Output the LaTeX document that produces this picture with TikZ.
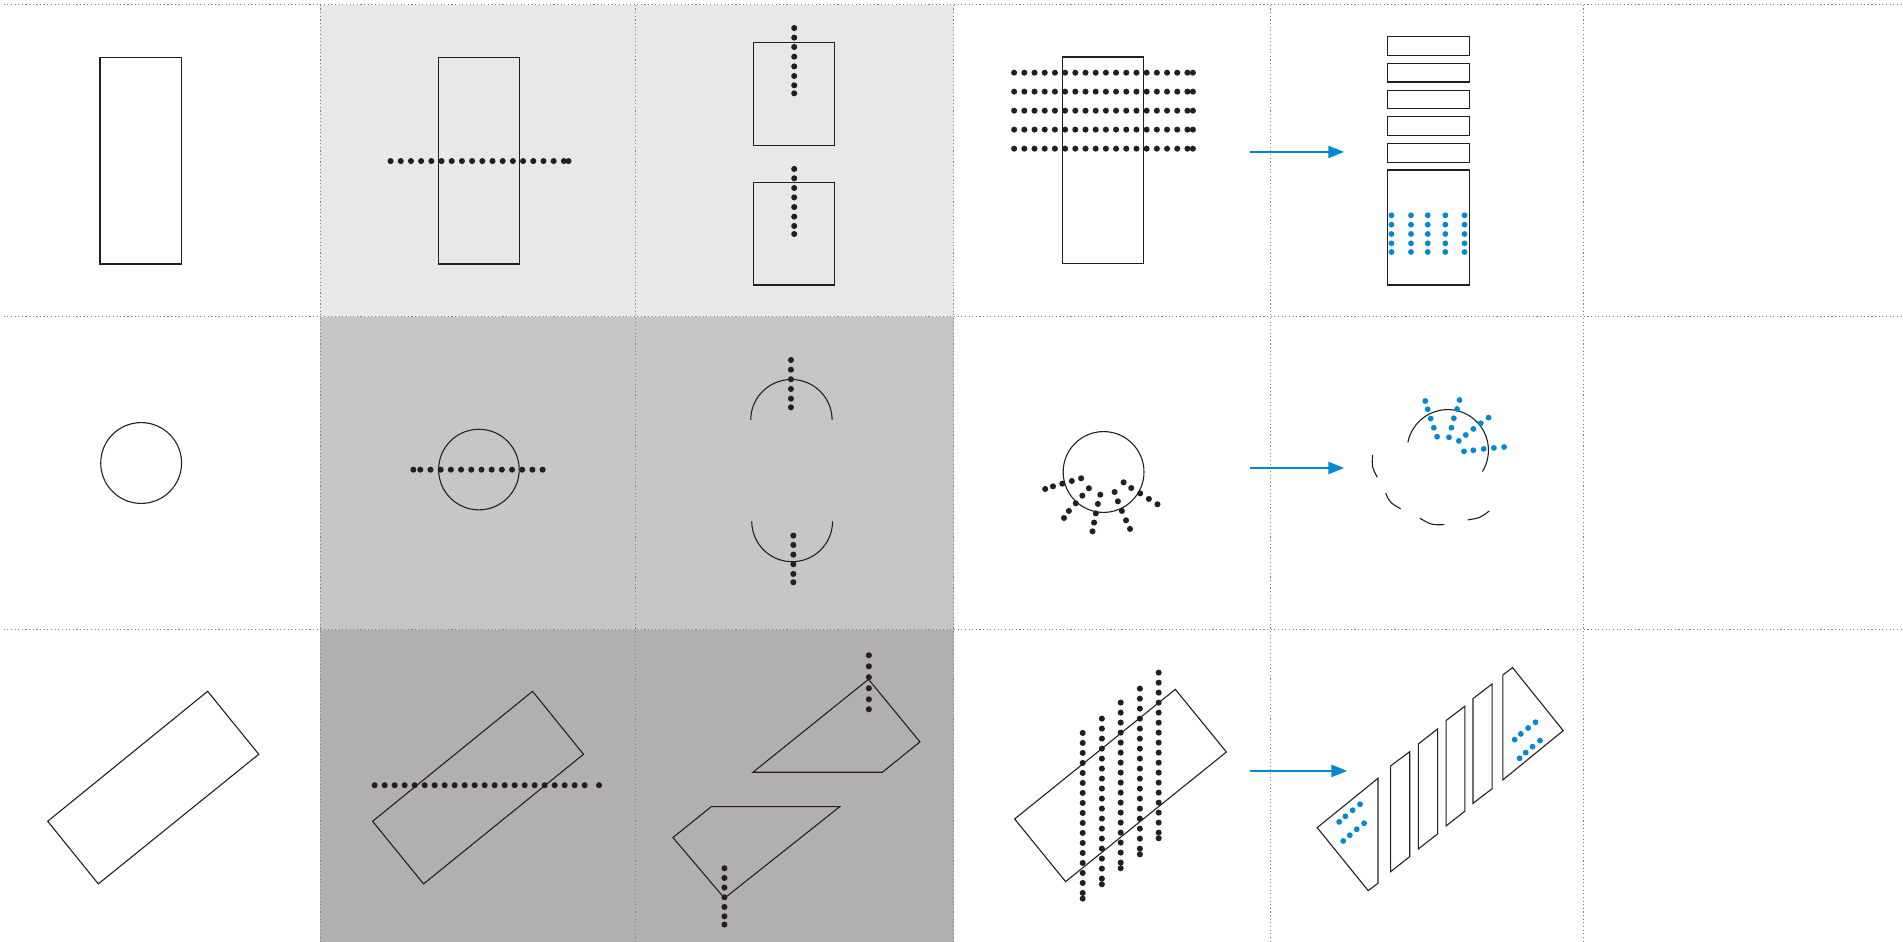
\documentclass[tikz,border=0pt]{standalone}
\usetikzlibrary{arrows.meta}
\definecolor{ink}{HTML}{231F20}
\definecolor{blu}{HTML}{0088D1}
\definecolor{gA}{HTML}{E8E8E8}
\definecolor{gB}{HTML}{C6C6C6}
\definecolor{gC}{HTML}{B1AFB0}
\definecolor{gridc}{HTML}{808080}
\tikzset{
  shp/.style={draw=ink, line width=0.9pt, line join=miter},
  grd/.style={draw=gridc, line width=0.8pt, dash pattern=on 0.9pt off 2.1pt},
  arr/.style={draw=blu, line width=1.3pt, -{Triangle[length=13pt,width=10pt]}},
  kd/.style={fill=ink},
  bd/.style={fill=blu},
}
\newcommand{\kdot}[2]{\fill[kd] (#1,#2) circle[radius=2.5pt];}
\newcommand{\bdot}[2]{\fill[bd] (#1,#2) circle[radius=2.4pt];}
\begin{document}
\begin{tikzpicture}[x=1pt,y=-1pt]
\useasboundingbox (0,0) rectangle (1568,776);
\fill[white] (0,0) rectangle (1568,776);
% shaded columns
\fill[gA] (264,4) rectangle (786,261);
\fill[gB] (264,261) rectangle (786,519);
\fill[gC] (264,519) rectangle (786,776);
% grid
\foreach \yy in {4,261,519} {\draw[grd] (3,\yy) -- (1568,\yy);}
\foreach \xx in {264,524,786,1047,1305} {\draw[grd] (\xx,4) -- (\xx,776);}

% ===== Row 1 =====
\draw[shp] (82.4,47.2) rectangle (149.3,217.5);
% cell 1,2
\draw[shp] (361.5,47.2) rectangle (428,217.5);
\foreach \i in {0,...,17} {\kdot{321.8+8.4*\i}{132.7}}
\kdot{468.4}{132.7}
% cell 1,3
\draw[shp] (620.8,35.2) rectangle (687.7,120);
\foreach \yy in {23.1,31.0,38.7,46.7,54.7,62.6,70.3,76.9} {\kdot{654.4}{\yy}}
\draw[shp] (620.8,150) rectangle (687.7,234.8);
\foreach \yy in {139.2,146.9,154.9,162.6,170.6,178.5,186.2,192.8} {\kdot{654.4}{\yy}}
% cell 1,4
\draw[shp] (875.3,47) rectangle (942.2,217);
\foreach \yy in {59.9,75.5,91.2,106.8,122.5}{
  \foreach \i in {0,...,17} {\kdot{835.6+8.4*\i}{\yy}}
  \kdot{982.9}{\yy}
}
\coordinate (a1s) at (1030,125.2);
\coordinate (a1e) at (1107.5,125.2);
\draw[arr] (a1s) -- (a1e);
% cell 1,5
\foreach \ya/\yb in {30.2/45.6,52.2/67.6,74.2/89.5,96.1/111.5,118.1/133.8}
  {\draw[shp] (1143.1,\ya) rectangle (1210.7,\yb);}
\draw[shp] (1143.1,140.1) rectangle (1210.7,234.8);
\foreach \xx in {1146.5,1162.6,1176.4,1190.9,1206.7}
  {\foreach \yy in {177.4,185.1,192.8,200.5,207.6} {\bdot{\xx}{\yy}}}

% ===== Row 2 =====
\draw[shp] (116.3,381.5) circle[radius=33.3pt];
% cell 2,2
\draw[shp] (394.6,386.9) circle[radius=33.2pt];
\foreach \i in {0,...,12} {\kdot{346.3+8.4*\i}{387}}
\kdot{340.6}{387}
% cell 2,3
\draw[shp] plot[domain=0:180,samples=60] ({652.1+33.5*cos(\x)},{346-33.3*sin(\x)});
\foreach \yy in {296.6,304.6,312.5,320.5,328.5,335.6} {\kdot{651.7}{\yy}}
\draw[shp] plot[domain=180:360,samples=60] ({652.7+33.3*cos(\x)},{429.5-33.3*sin(\x)});
\foreach \yy in {441.3,449,457,464.9,472.9,479.8} {\kdot{653.7}{\yy}}
% cell 2,4
\draw[shp] (909.3,388.9) circle[radius=33.3pt];
\foreach \xx/\yy in {861.2/402.9,867.6/400.7,875.3/398.5,883.1/396.3,890.8/394.1,
  897.2/402.3,891.8/408.4,886.4/414.7,880.7/421,876.7/426.8,
  906.6/407.6,904.6/415.2,902.9/423,901.5/430.6,900.2/437.8,
  918.4/405.4,921.1/413.1,924.4/421,927.8/428.7,931.1/435.8,
  925.8/397.4,932.1/402.1,939.5/406.5,946.6/411.1,953.7/415.5} {\kdot{\xx}{\yy}}
\coordinate (a2s) at (1030,385.6);
\coordinate (a2e) at (1107.5,385.6);
\draw[arr] (a2s) -- (a2e);
% cell 2,5
\draw[shp] plot[domain=-31.6:169,samples=60] ({1192.9+33.5*cos(\x)},{371-33.5*sin(\x)});
\draw[shp] (1131,374.9) .. controls (1130.3,384.6) .. (1134.8,393.3);
\draw[shp] (1141.7,406.4) .. controls (1145.3,414.1) .. (1154.1,419.3);
\draw[shp] (1170,427) .. controls (1179.2,432.5) .. (1190,432.3);
\draw[shp] (1209.3,428.4) .. controls (1219.6,426.7) .. (1227.1,421);
\foreach \xx/\yy in {1174.4/330.4,1176.4/337.2,1178.8/344.9,1181.4/352.4,1184.1/359.8,
  1202.6/329.6,1200.6/337,1197.9/344.7,1195.9/352.4,1193.9/360.3,
  1226.5/344.1,1220.1/348.8,1214/353.4,1207.7/358.4,1202/363.3,
  1206.3/371.9,1214/371,1222.5/369.9,1230.9/369.1,1239.3/368.3} {\bdot{\xx}{\yy}}

% ===== Row 3 =====
\draw[shp] (171.1,569.6) -- (213.2,621.5) -- (81,728.3) -- (39.3,676.7) -- cycle;
% cell 3,2
\draw[shp] (438.8,569.6) -- (480.8,621.5) -- (349,728.3) -- (307,676.7) -- cycle;
\foreach \i in {0,...,21} {\kdot{308.7+8.24*\i}{647}}
\kdot{493.6}{647}
% cell 3,3
\draw[shp] (715.6,559.7) -- (758,611.3) -- (727,636.3) -- (620.4,636.3) -- cycle;
\foreach \yy in {539.9,549,558,567.1,576.2,584.4} {\kdot{715.9}{\yy}}
\draw[shp] (586.1,664.6) -- (692,664.6) -- (596.9,740.1) -- (554.5,690.1) -- cycle;
\foreach \yy in {715.4,723.4,731.3,739.3,747.3,755,761.8} {\kdot{596.9}{\yy}}
% cell 3,4
\draw[shp] (968.4,568) -- (1010.5,619.6) -- (878,726.4) -- (836,674.8) -- cycle;
\foreach \xx/\ys in {892.1/603.9,907.9/592.1,923.4/578.9,939.2/567.4,954.7/554.2}{
  \foreach \i in {0,...,16} {\kdot{\xx}{\ys+8.24*\i}}
  \kdot{\xx}{\ys+136.5}
}
\coordinate (a3s) at (1030,635.2);
\coordinate (a3e) at (1110,635.2);
\draw[arr] (a3s) -- (a3e);
% cell 3,5
\draw[shp] (1085.3,681.9) -- (1135.4,641.3) -- (1135.4,727.8) -- (1127.3,733.8) -- cycle;
\draw[shp] (1145.8,631.1) -- (1161.6,619.3) -- (1161.6,705.8) -- (1145.8,718.2) -- cycle;
\draw[shp] (1168.7,613) -- (1184.5,600.6) -- (1184.5,687.1) -- (1168.7,699.5) -- cycle;
\draw[shp] (1191.5,593.7) -- (1207,581.9) -- (1207,668.4) -- (1191.5,680.5) -- cycle;
\draw[shp] (1213.7,575.6) -- (1229.5,563.5) -- (1229.5,649.8) -- (1213.7,661.9) -- cycle;
\draw[shp] (1238.3,556.1) -- (1246.3,550.1) -- (1288,602) -- (1238.3,642.6) -- cycle;
\foreach \xx/\yy in {1120.6/662.7,1114.5/667.6,1108.5/672.6,1103.4/677.2,
  1124/678.3,1117.9/683.3,1112.2/688.2,1106.8/692.9,
  1265.2/595.1,1259.1/599.8,1253.1/604.7,1248/609.4,
  1268.9/610.2,1262.8/615.2,1257.1/620.1,1252.1/624.8} {\bdot{\xx}{\yy}}
\end{tikzpicture}
\end{document}
